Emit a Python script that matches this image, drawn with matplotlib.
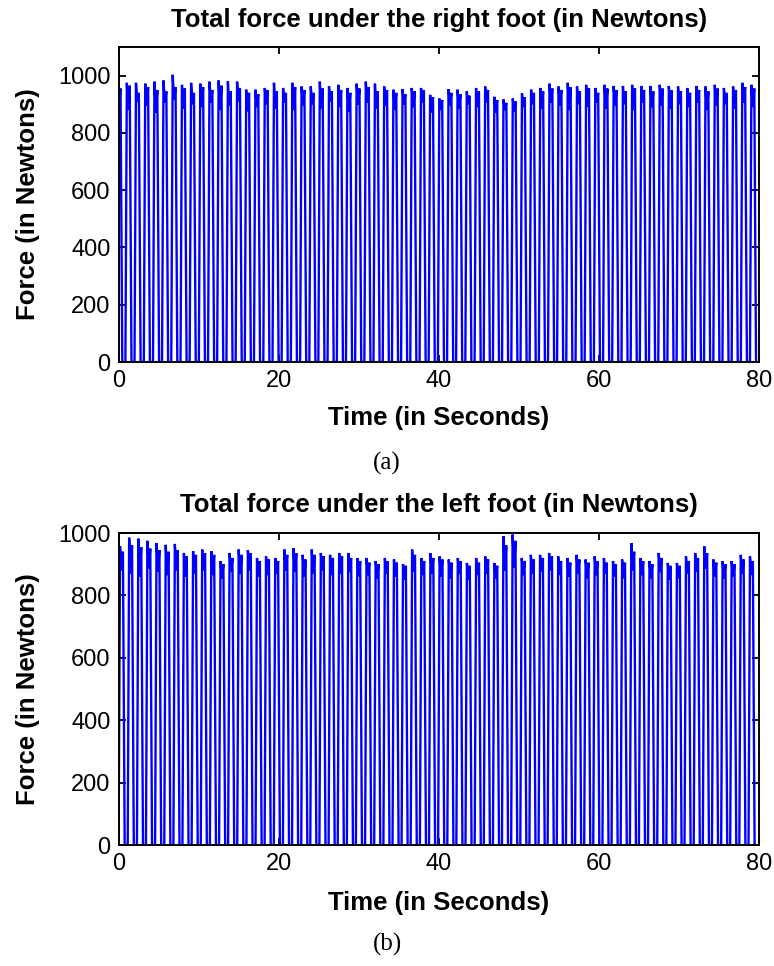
import numpy as np
import matplotlib
matplotlib.use("Agg")
import matplotlib.pyplot as plt

# ---------------------------------------------------------------
# Gait data: one entry per stride (foot contact)
# ---------------------------------------------------------------
# Right foot
right_first_contact = -0.35          # s
right_stride_s = [
    1.15, 1.14, 1.16, 1.15, 1.13, 1.15, 1.16, 1.14, 1.15, 1.15,
    1.14, 1.16, 1.15, 1.14, 1.15, 1.17, 1.15, 1.14, 1.15, 1.16,
    1.15, 1.13, 1.15, 1.16, 1.14, 1.15, 1.15, 1.14, 1.16, 1.15,
    1.14, 1.15, 1.16, 1.14, 1.15, 1.15, 1.13, 1.15, 1.16, 1.14,
    1.15, 1.14, 1.16, 1.15, 1.14, 1.15, 1.15, 1.13, 1.15, 1.16,
    1.14, 1.15, 1.15, 1.14, 1.16, 1.15, 1.14, 1.15, 1.16, 1.14,
    1.15, 1.15, 1.13, 1.15, 1.16, 1.14, 1.15, 1.15, 1.14, 1.15,
]
right_heel_peak = [
    986, 975, 975, 972, 979, 983, 1003, 968, 975, 972,
    979, 983, 980, 979, 951, 951, 957, 975, 957, 975,
    962, 962, 979, 962, 968, 957, 972, 979, 972, 962,
    951, 953, 957, 957, 933, 920, 953, 951, 945, 957,
    962, 926, 917, 920, 938, 951, 957, 972, 962, 975,
    962, 968, 957, 968, 964, 964, 968, 964, 964, 968,
    964, 962, 957, 964, 962, 968, 957, 962, 975, 968,
]
right_mid_valley = [
    900, 880, 910, 895, 870, 905, 915, 885, 900, 890,
    905, 880, 895, 910, 875, 890, 900, 885, 905, 880,
    895, 900, 885, 910, 890, 875, 900, 905, 885, 895,
    880, 900, 890, 905, 870, 880, 895, 885, 900, 890,
    905, 870, 880, 875, 890, 900, 885, 905, 895, 880,
    900, 890, 905, 885, 895, 900, 880, 905, 890, 895,
    885, 900, 890, 905, 880, 895, 900, 885, 905, 890,
]
right_toe_peak = [
    955, 965, 940, 960, 950, 945, 960, 955, 940, 960,
    950, 965, 945, 955, 940, 935, 950, 945, 940, 960,
    950, 940, 955, 945, 950, 940, 955, 960, 945, 950,
    940, 935, 945, 950, 925, 915, 940, 935, 930, 945,
    950, 915, 905, 910, 925, 940, 945, 955, 950, 960,
    945, 955, 940, 955, 950, 945, 955, 950, 945, 955,
    950, 945, 940, 950, 945, 955, 940, 950, 960, 955,
]

# Left foot
left_first_contact = -0.05           # s
left_stride_s = [
    1.14, 1.15, 1.13, 1.14, 1.15, 1.14, 1.13, 1.15, 1.14, 1.14,
    1.15, 1.13, 1.14, 1.15, 1.14, 1.13, 1.15, 1.14, 1.14, 1.15,
    1.13, 1.14, 1.15, 1.14, 1.14, 1.13, 1.15, 1.14, 1.15, 1.14,
    1.13, 1.14, 1.15, 1.14, 1.14, 1.15, 1.13, 1.14, 1.15, 1.14,
    1.14, 1.13, 1.15, 1.14, 1.14, 1.15, 1.13, 1.14, 1.15, 1.14,
    1.14, 1.13, 1.15, 1.14, 1.14, 1.15, 1.13, 1.14, 1.15, 1.14,
    1.14, 1.13, 1.15, 1.14, 1.14, 1.15, 1.13, 1.14, 1.15, 1.14,
]
left_heel_peak = [
    957, 985, 982, 975, 968, 962, 965, 936, 942, 947,
    942, 910, 936, 947, 945, 920, 925, 920, 947, 952,
    930, 947, 936, 930, 936, 936, 920, 920, 910, 920,
    915, 900, 947, 920, 935, 925, 915, 920, 904, 920,
    925, 904, 990, 995, 920, 930, 930, 936, 925, 920,
    930, 915, 925, 920, 910, 915, 968, 920, 910, 936,
    904, 904, 925, 936, 957, 915, 910, 910, 930, 925,
]
left_mid_valley = [
    880, 870, 860, 885, 875, 865, 880, 860, 870, 880,
    865, 855, 875, 870, 880, 860, 865, 870, 880, 875,
    860, 870, 880, 865, 870, 875, 860, 865, 855, 870,
    860, 850, 875, 865, 870, 860, 855, 870, 850, 865,
    870, 855, 880, 890, 865, 870, 875, 880, 865, 860,
    870, 855, 865, 870, 860, 855, 880, 865, 855, 875,
    850, 855, 870, 875, 885, 860, 855, 860, 870, 865,
]
left_toe_peak = [
    940, 960, 955, 950, 945, 940, 945, 925, 930, 935,
    930, 900, 920, 930, 935, 910, 915, 910, 930, 935,
    915, 930, 925, 920, 925, 920, 910, 905, 900, 910,
    905, 895, 930, 910, 920, 915, 905, 910, 895, 905,
    915, 895, 960, 975, 910, 915, 920, 925, 910, 905,
    915, 905, 910, 905, 900, 905, 940, 910, 900, 920,
    895, 895, 910, 920, 935, 905, 900, 900, 915, 910,
]

# Timing of the force-curve landmarks within a stance phase (s after contact)
T_HEEL, T_MID, T_TOE, T_OFF = 0.18, 0.36, 0.54, 0.76


def stance_trace(first_contact, strides, heel, valley, toe):
    """Polyline vertices of the total vertical force over successive steps."""
    contacts = first_contact + np.concatenate([[0.0], np.cumsum(strides)[:-1]])
    t, f = [], []
    for c, h, v, p in zip(contacts, heel, valley, toe):
        t += [c, c + T_HEEL, c + T_MID, c + T_TOE, c + T_OFF]
        f += [0.0, h, v, p, 0.0]
    return np.array(t), np.array(f)


plt.rcParams["font.family"] = ["Liberation Sans", "DejaVu Sans"]

W, H = 774, 966
fig = plt.figure(figsize=(W / 100, H / 100), dpi=100)


def px_axes(left, top, right, bottom):
    return fig.add_axes([left / W, 1 - bottom / H, (right - left) / W, (bottom - top) / H])


panels = [
    dict(box=(119, 47, 759, 362), ylim=1100, title="Total force under the right foot (in Newtons)",
         data=(right_first_contact, right_stride_s, right_heel_peak, right_mid_valley, right_toe_peak),
         tag="(a)", title_y=20, xlabel_y=418, tag_y=463),
    dict(box=(119, 533, 759, 845), ylim=1000, title="Total force under the left foot (in Newtons)",
         data=(left_first_contact, left_stride_s, left_heel_peak, left_mid_valley, left_toe_peak),
         tag="(b)", title_y=505, xlabel_y=903, tag_y=944),
]

LABEL_FS = 18.5
for p in panels:
    left, top, right, bottom = p["box"]
    hpx, wpx = bottom - top, right - left
    ax = px_axes(*p["box"])
    t, f = stance_trace(*p["data"])
    ax.plot(t, f, color="#0000FF", lw=1.7, solid_joinstyle="miter")
    ax.set_xlim(0, 80)
    ax.set_ylim(0, p["ylim"])
    ax.set_xticks([0, 20, 40, 60, 80])
    ax.set_yticks([0, 200, 400, 600, 800, 1000])
    ax.tick_params(direction="in", top=True, right=True, length=5, width=1.3,
                   labelsize=17, pad=6)
    for s in ax.spines.values():
        s.set_linewidth(1.4)
    ax.set_title(p["title"], fontsize=LABEL_FS, fontweight="bold", pad=0,
                 y=1 + (top - p["title_y"]) / hpx, va="center")
    ax.set_xlabel("Time (in Seconds)", fontsize=LABEL_FS, fontweight="bold", va="center")
    ax.xaxis.set_label_coords(0.5, -(p["xlabel_y"] - bottom) / hpx)
    ax.set_ylabel("Force (in Newtons)", fontsize=LABEL_FS, fontweight="bold", va="center")
    ax.yaxis.set_label_coords(-(left - 28) / wpx, 0.5)
    fig.text(0.5, 1 - p["tag_y"] / H, p["tag"], ha="center", va="center",
             fontsize=18, family=["Liberation Serif", "DejaVu Serif"])

fig.savefig("out.png", dpi=100)
